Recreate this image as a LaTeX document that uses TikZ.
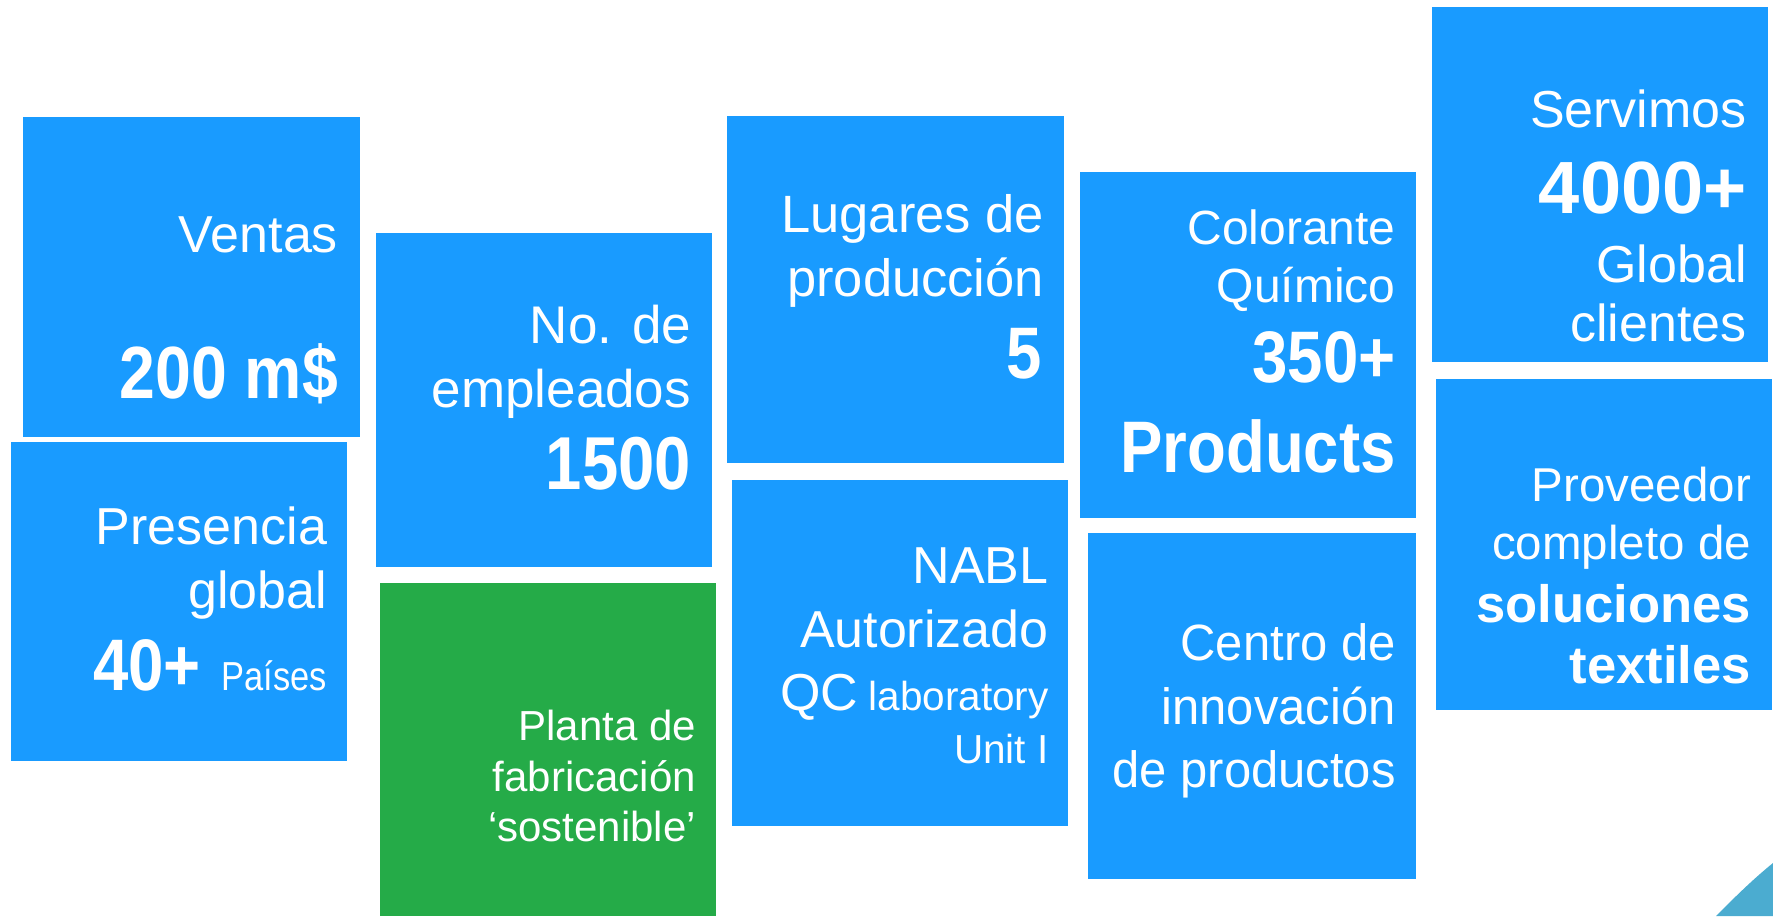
\documentclass[tikz,border=0pt]{standalone}
\usepackage{fontspec}
\setmainfont{Liberation Sans}
\newfontfamily\bcond[FakeStretch=0.87]{Liberation Sans}
\newfontfamily\lcond[FakeStretch=0.96]{Liberation Sans}
\newfontfamily\pcond[FakeStretch=0.85]{Liberation Sans}
\newfontfamily\qcond[FakeStretch=1.0]{Liberation Sans}
\definecolor{cblue}{RGB}{25,155,255}
\definecolor{cgreen}{RGB}{37,171,72}
\definecolor{cteal}{RGB}{75,172,208}
\tikzset{
  box/.style={rectangle, fill=cblue, draw=none, inner sep=0pt, outer sep=0pt},
  gbox/.style={box, fill=cgreen},
  t/.style={text=white, anchor=base east, inner sep=0pt, outer sep=0pt},
}
\newcommand\fs[1]{\fontsize{#1}{#1}\selectfont}
\newcommand\bignum[2]{{\bcond\bfseries\fs{#1}#2}}
\begin{document}
\begin{tikzpicture}[x=1pt,y=-1pt]
\useasboundingbox (0,0) rectangle (1773,916);
% boxes
\node[box, minimum width=337pt, minimum height=320pt] (ventas) at (191.5,277) {};
\node[box, minimum width=336pt, minimum height=319pt] (presencia) at (179,601.5) {};
\node[box, minimum width=336pt, minimum height=334pt] (empleados) at (544,400) {};
\node[gbox, minimum width=336pt, minimum height=333pt] (planta) at (548,749.5) {};
\node[box, minimum width=337pt, minimum height=347pt] (lugares) at (895.5,289.5) {};
\node[box, minimum width=336pt, minimum height=346pt] (nabl) at (900,653) {};
\node[box, minimum width=336pt, minimum height=346pt] (colorante) at (1248,345) {};
\node[box, minimum width=328pt, minimum height=346pt] (centro) at (1252,706) {};
\node[box, minimum width=336pt, minimum height=355pt] (servimos) at (1600,184.5) {};
\node[box, minimum width=336pt, minimum height=331pt] (proveedor) at (1604,544.5) {};
% swoosh
\fill[cteal] (1716,916) .. controls (1733,899) and (1752,880) .. (1773,863) -- (1773,916) -- cycle;
% texts: Ventas
\node[t, font=\fs{52}] (v1) at (338,252) {Ventas};
\node[t] (v2) at (338,398) {\bignum{74}{200 m\$}};
% Presencia
\node[t, font=\fs{52}] (p1) at (327,544.5) {Presencia};
\node[t, font=\fs{52}] (p2) at (327,608) {global};
\node[t] (p3) at (327,690.6) {\bignum{73}{40+}\hspace{21pt}{\pcond\fs{40.5}Países}};
% Empleados
\node[t, font=\fs{53}] (e1) at (691,343.5) {No. de};
\node[t, font=\fs{53}] (e2) at (691,407) {empleados};
\node[t] (e3) at (691,489) {\bignum{75}{1500}};
% Planta
\node[t, font=\fs{42}] (g1) at (696,740) {Planta de};
\node[t, font=\fs{42}] (g2) at (696,791) {fabricación};
\node[t, font=\fs{42}] (g3) at (696,841.4) {‘sostenible’};
% Lugares
\node[t, font=\fs{52.5}] (l1) at (1044,232.7) {Lugares de};
\node[t, font=\fs{52.5}] (l2) at (1044,296.7) {producción};
\node[t] (l3) at (1042,378) {\bignum{73}{5}};
% NABL
\node[t, font=\fs{52}] (n1) at (1048.6,583) {NABL};
\node[t, font=\fs{52}] (n2) at (1048.6,647) {Autorizado};
\node[t] (n3) at (1048.6,710) {{\fs{52}QC}\hspace{10pt}{\qcond\fs{40.5}laboratory}};
\node[t] (n4) at (1048.6,763) {{\qcond\fs{40.5}Unit I}};
% Colorante
\node[t, font=\fs{48}] (c1) at (1395.6,244) {Colorante};
\node[t, font=\fs{48}] (c2) at (1395.6,302) {Químico};
\node[t] (c3) at (1395.6,382.6) {\bignum{73}{350+}};
\node[t] (c4) at (1395.6,472) {\bignum{73}{Products}};
% Centro
\node[t, font=\lcond\fs{51}] (i1) at (1395.6,660) {Centro de};
\node[t, font=\lcond\fs{51}] (i2) at (1395.6,724) {innovación};
\node[t, font=\lcond\fs{51}] (i3) at (1395.6,787) {de productos};
% Servimos
\node[t, font=\fs{52}] (s1) at (1746.7,127) {Servimos};
\node[t, font=\bfseries\fs{74}] (s2) at (1746.7,213) {4000+};
\node[t, font=\fs{52}] (s3) at (1746.7,282) {Global};
\node[t, font=\fs{52}] (s4) at (1746.7,341.7) {clientes};
% Proveedor
\node[t, font=\fs{47.5}] (r1) at (1751,501) {Proveedor};
\node[t, font=\fs{47.5}] (r2) at (1751,559.6) {completo de};
\node[t, font=\bfseries\fs{52.6}] (r3) at (1751,622) {soluciones};
\node[t, font=\bfseries\fs{52.6}] (r4) at (1751,683) {textiles};
\end{tikzpicture}
\end{document}
